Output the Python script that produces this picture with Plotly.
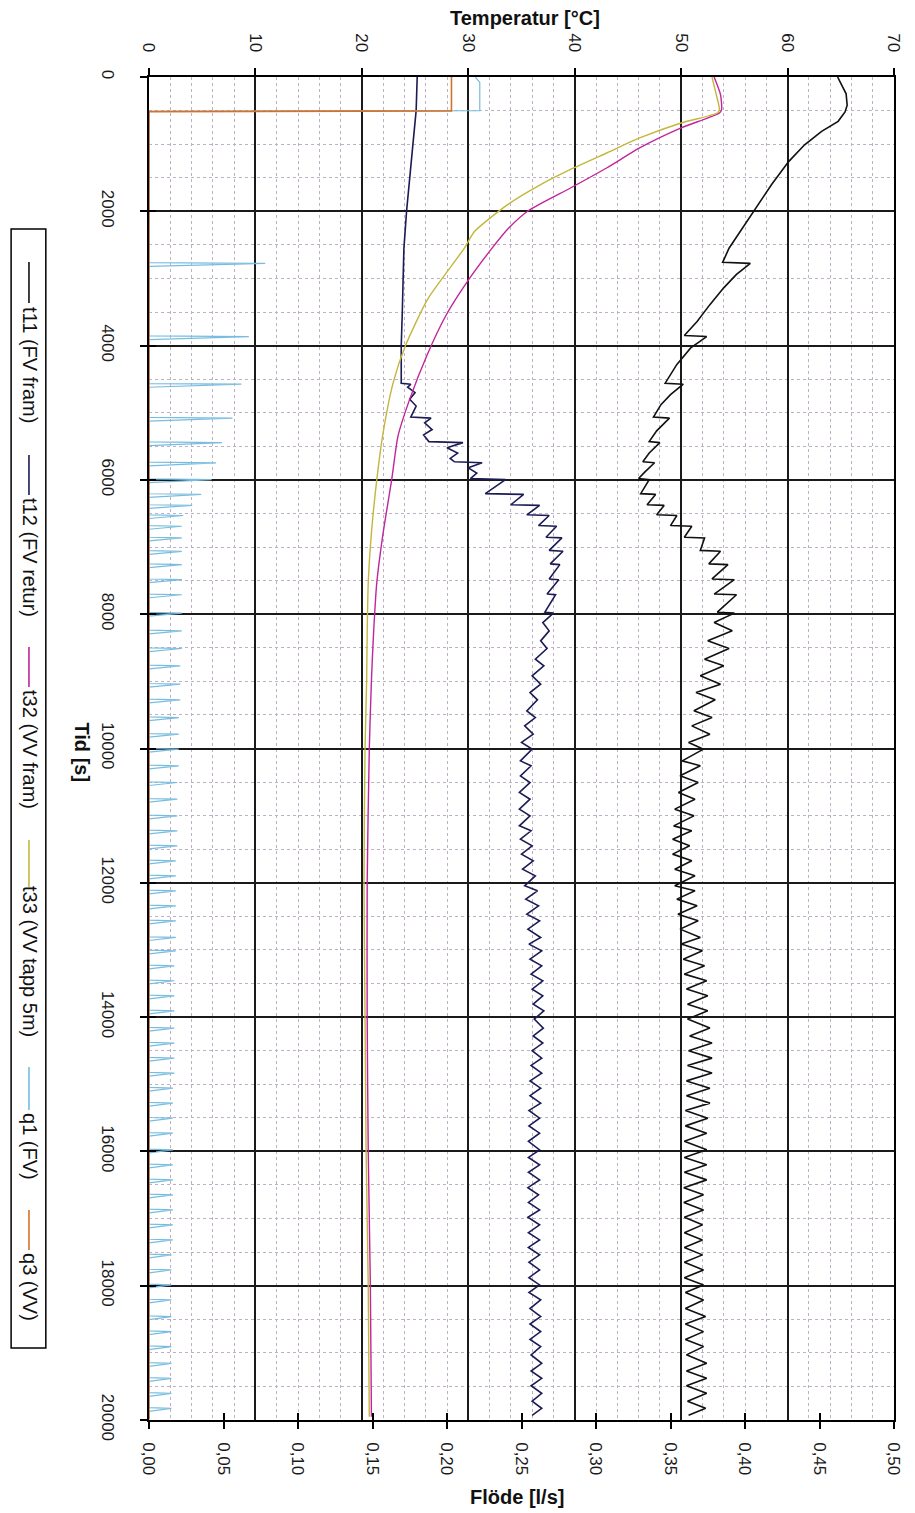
import plotly.graph_objects as go

# ---------------- data ----------------
# time axis [s]; temperatures [degC]; flows [l/s]
t11_early_t = [0, 250, 420, 520, 660, 810, 1010, 1260, 1600, 2000, 2300, 2550, 2760,
               2775, 2940, 3140, 3390, 3640, 3850,
               3865, 4035, 4280, 4560,
               4575, 4730, 4880, 5065,
               5080, 5270, 5430,
               5445, 5600, 5730,
               5745, 5880, 5980]
t11_early_v = [64.7, 65.5, 65.6, 65.4, 64.75, 63.2, 61.6, 60.1, 58.5, 56.8, 55.6, 54.5, 53.9,
               56.5, 55.2, 54.0, 52.7, 51.5, 50.3,
               52.4, 50.9, 49.6, 48.5,
               50.2, 49.0, 48.1, 47.4,
               48.9, 47.7, 47.0,
               48.0, 47.0, 46.4,
               47.5, 46.6, 46.0]

t12_early_t = [0, 500, 1000, 1500, 2000, 2556, 3000, 3500, 4000, 4560,
               4575, 4620, 4700, 4800, 4900, 5000, 5065, 5080, 5150, 5250,
               5330, 5430, 5445, 5520, 5600, 5680, 5730, 5745, 5820, 5900,
               5980]
t12_early_v = [25.2, 25.1, 24.8, 24.5, 24.2, 23.95, 23.85, 23.8, 23.7, 23.7,
               24.6, 24.3, 25.0, 24.5, 25.1, 24.8, 24.6, 26.5, 25.9, 26.6,
               25.8, 26.3, 29.5, 28.0, 29.0, 28.3, 28.7, 31.3, 30.0, 30.8,
               30.2]

# oscillating part: alternating pulse (peak) / trough times
osc_t = [5995, 6205, 6216, 6370, 6380, 6520, 6530, 6680, 6690, 6855,
         6864, 7050, 7063, 7250, 7262, 7475, 7486, 7700, 7710, 7970,
         7984, 8124, 8248, 8397, 8511, 8670, 8769, 8918, 9042, 9166,
         9275, 9439, 9539, 9663, 9787, 9910, 10010, 10184, 10258, 10407,
         10506, 10655, 10755, 10903, 11003, 11152, 11226, 11350, 11449, 11573,
         11673, 11797, 11896, 12045, 12119, 12243, 12343, 12467, 12566, 12690,
         12814, 12913, 13013, 13137, 13236, 13360, 13459, 13583, 13683, 13807,
         13906, 14030, 14164, 14280, 14387, 14500, 14611, 14720, 14834, 14950,
         15058, 15170, 15281, 15390, 15505, 15620, 15729, 15850, 15977, 16090,
         16200, 16310, 16424, 16540, 16647, 16760, 16871, 16980, 17094, 17210,
         17318, 17430, 17541, 17650, 17765, 17880, 17988, 18100, 18212, 18340,
         18460, 18570, 18684, 18800, 18907, 19030, 19156, 19270, 19379, 19490,
         19603, 19720, 19826, 19930]
t11_osc = [47.0, 46.2, 47.6, 46.8, 48.4, 47.7, 49.6, 49.0, 51.0, 50.3,
           52.2, 51.8, 53.7, 52.6, 54.4, 52.9, 55.0, 53.1, 55.2, 53.4,
           55.0, 53.1, 54.8, 52.5, 54.5, 52.2, 54.0, 51.8, 53.7, 51.4,
           53.2, 51.2, 52.9, 51.0, 52.7, 50.7, 52.1, 50.1, 51.8, 49.9,
           51.6, 49.75, 51.3, 49.4, 51.2, 49.3, 51.0, 49.2, 50.8, 49.2,
           51.0, 49.4, 51.3, 49.4, 51.3, 49.6, 51.5, 49.7, 51.6, 49.9,
           51.8, 50.0, 52.0, 50.2, 52.2, 50.3, 52.4, 50.5, 52.5, 50.6,
           52.5, 50.6, 52.7, 50.8, 52.9, 50.7, 52.9, 50.6, 52.9, 50.5,
           52.7, 50.5, 52.7, 50.4, 52.5, 50.4, 52.4, 50.3, 52.4, 50.3,
           52.4, 50.3, 52.4, 50.25, 52.1, 50.25, 52.1, 50.3, 52.0, 50.3,
           52.0, 50.3, 52.0, 50.3, 52.1, 50.3, 52.1, 50.4, 52.1, 50.4,
           52.3, 50.4, 52.1, 50.4, 52.1, 50.5, 52.4, 50.5, 52.4, 50.5,
           52.4, 50.6, 52.3, 50.7]
t12_osc = [33.5, 31.6, 35.2, 34.0, 36.7, 35.5, 37.6, 36.6, 38.3, 37.3,
           38.8, 37.6, 38.9, 37.7, 38.6, 37.6, 38.5, 37.4, 38.2, 37.2,
           38.0, 37.0, 37.6, 36.8, 37.4, 36.3, 37.1, 36.0, 36.8, 35.8,
           36.5, 35.5, 36.3, 35.3, 36.1, 35.0, 36.0, 34.9, 35.9, 34.9,
           35.8, 34.8, 35.8, 34.8, 35.8, 34.8, 35.9, 34.9, 36.0, 35.0,
           36.1, 35.1, 36.3, 35.3, 36.5, 35.4, 36.6, 35.5, 36.7, 35.6,
           36.8, 35.7, 36.9, 35.8, 36.9, 35.9, 37.0, 36.0, 37.0, 36.1,
           37.1, 36.2, 37.05, 36.1, 37.0, 36.0, 36.9, 35.9, 36.9, 35.8,
           36.8, 35.8, 36.8, 35.7, 36.7, 35.7, 36.7, 35.65, 36.7, 35.65,
           36.7, 35.65, 36.7, 35.6, 36.6, 35.65, 36.7, 35.6, 36.7, 35.65,
           36.7, 35.65, 36.7, 35.7, 36.7, 35.7, 36.7, 35.7, 36.8, 35.8,
           36.8, 35.8, 36.8, 35.8, 36.8, 35.9, 36.9, 35.9, 36.9, 35.9,
           36.9, 36.0, 36.9, 36.0]

t32_t = [0, 263, 486, 536, 759, 1057, 1355, 1653, 1985, 2250, 2556, 3004, 3552, 4150,
         4797, 5345, 6000, 6789, 7536, 8283, 8980, 10000, 12000, 14000, 16000, 18000, 19950]
t32_v = [53.1, 53.7, 53.8, 53.6, 50.0, 46.1, 43.0, 39.6, 35.7, 33.8, 32.2, 30.1, 27.9, 26.1,
         24.5, 23.4, 22.8, 22.0, 21.4, 21.1, 20.9, 20.7, 20.5, 20.5, 20.6, 20.8, 20.9]

t33_t = [0, 263, 486, 536, 685, 908, 1132, 1355, 1603, 1901, 2298, 2556, 3303, 4000,
         4548, 5295, 6000, 6789, 7536, 8283, 8980, 10000, 12000, 14000, 16000, 18000, 19950]
t33_v = [52.9, 53.3, 53.6, 53.4, 50.0, 46.1, 43.0, 39.9, 36.8, 33.7, 30.6, 29.6, 26.2, 24.1,
         22.95, 22.0, 21.4, 20.9, 20.6, 20.5, 20.45, 20.3, 20.2, 20.3, 20.4, 20.6, 20.7]

q1_start_t = [0, 80, 500, 510]
q1_start_v = [0.219, 0.222, 0.222, 0.0]
q1_end_t = [19990]
q1_end_v = [0.0]
pulse_early_t = [2775, 3865, 4575, 5080, 5445, 5745]
q1_peak = [0.078, 0.067, 0.062, 0.056, 0.049, 0.045,
           0.042, 0.035, 0.029, 0.023, 0.022,
           0.022, 0.022, 0.022, 0.022, 0.022,
           0.022, 0.022, 0.022, 0.021, 0.021,
           0.021, 0.020, 0.020, 0.020, 0.020,
           0.019, 0.019, 0.019, 0.019, 0.019,
           0.018, 0.018, 0.018, 0.018, 0.018,
           0.018, 0.018, 0.017, 0.017, 0.017,
           0.017, 0.017, 0.017, 0.017, 0.017,
           0.016, 0.016, 0.016, 0.016, 0.016,
           0.016, 0.016, 0.016, 0.016, 0.016,
           0.016, 0.015, 0.015, 0.015, 0.015,
           0.015, 0.015, 0.015, 0.015, 0.015,
           0.015, 0.015]

q3_t = [0, 505, 515, 19990]
q3_v = [0.203, 0.203, 0.0, 0.0]

temp_ticks = [0, 10, 20, 30, 40, 50, 60, 70]
flow_ticks = [0.0, 0.05, 0.10, 0.15, 0.20, 0.25, 0.30, 0.35, 0.40, 0.45, 0.50]
flow_labels = ["0,00", "0,05", "0,10", "0,15", "0,20", "0,25", "0,30", "0,35", "0,40", "0,45", "0,50"]
time_ticks = [0, 2000, 4000, 6000, 8000, 10000, 12000, 14000, 16000, 18000, 20000]

names = ["t11 (FV fram)", "t12 (FV retur)", "t32 (VV fram)", "t33 (VV tapp 5m)", "q1 (FV)", "q3 (VV)"]
colors = ["#111111", "#1b1b55", "#c0259c", "#c4b63c", "#78bddf", "#d4722a"]

# ---------------- assemble series ----------------
assert len(osc_t) == len(t11_osc) == len(t12_osc)
t11_t = t11_early_t + osc_t
t11_v = t11_early_v + t11_osc
t12_t = t12_early_t + osc_t
t12_v = t12_early_v + t12_osc

pulse_t = pulse_early_t + osc_t[0::2]
assert len(pulse_t) == len(q1_peak)
PULSE_RISE, PULSE_FALL = 10, 45
q1_t, q1_v = list(q1_start_t), list(q1_start_v)
for pt, pv in zip(pulse_t, q1_peak):
    q1_t += [pt - PULSE_RISE, pt, pt + PULSE_FALL]
    q1_v += [0.0, pv, 0.0]
q1_t += q1_end_t
q1_v += q1_end_v

# ---------------- figure ----------------
FONT = "Liberation Sans, Arial, sans-serif"
W, H = 915, 1513
L, R, T, B = 149, 15, 77, 93
PW, PH = W - L - R, H - T - B


def px(X):
    return (X - L) / PW


def py(Y):
    return (H - B - Y) / PH


fig = go.Figure()
widths = [1.6, 1.6, 1.4, 1.4, 1.2, 1.6]
shapes_ln = ["linear", "linear", "spline", "spline", "linear", "linear"]
series = [(t11_v, t11_t, "x"), (t12_v, t12_t, "x"), (t32_v, t32_t, "x"),
          (t33_v, t33_t, "x"), (q1_v, q1_t, "x2"), (q3_v, q3_t, "x2")]
for (xv, yv, xa), nm, col, w, sh in zip(series, names, colors, widths, shapes_ln):
    line = dict(color=col, width=w, shape=sh)
    if sh == "spline":
        line["smoothing"] = 0.6
    fig.add_trace(go.Scatter(x=xv, y=yv, mode="lines", name=nm, xaxis=xa, yaxis="y",
                             line=line, showlegend=False))

tickfont = dict(family=FONT, size=17, color="#1a1a1a")
major = "#1a1a1a"
minor_col = "#bfb0c6"

fig.update_layout(
    width=W, height=H,
    margin=dict(l=L, r=R, t=T, b=B),
    paper_bgcolor="white", plot_bgcolor="white",
    showlegend=False,
    xaxis=dict(range=[0, 70], side="top", anchor="y", tickvals=temp_ticks, tickangle=90,
               ticks="outside", ticklen=7, tickwidth=1.5, tickcolor="black",
               showgrid=True, gridcolor=major, gridwidth=1.6,
               minor=dict(dtick=2, showgrid=True, gridcolor=minor_col, griddash="dot", gridwidth=1),
               showline=True, linecolor="black", linewidth=1.6, zeroline=False,
               tickfont=tickfont, ticklabelstandoff=10),
    xaxis2=dict(range=[0, 0.5], overlaying="x", side="bottom", anchor="y",
                tickvals=flow_ticks, ticktext=flow_labels, tickangle=90,
                ticks="outside", ticklen=7, tickwidth=1.5, tickcolor="black",
                showgrid=False, zeroline=False, showline=True, linecolor="black", linewidth=1.6,
                tickfont=tickfont, ticklabelstandoff=10),
    xaxis3=dict(range=[0, 0.5], overlaying="x", side="bottom", anchor="y",
                tickvals=flow_ticks, ticks="inside", ticklen=7, tickwidth=1.5, tickcolor="black",
                showticklabels=False, showgrid=False, zeroline=False, showline=False),
    yaxis=dict(range=[20000, 0], tickvals=time_ticks, ticktext=[str(v) for v in time_ticks],
               tickangle=90, ticks="outside", ticklen=7, tickwidth=1.5, tickcolor="black",
               showgrid=True, gridcolor=major, gridwidth=1.6,
               minor=dict(dtick=500, showgrid=True, gridcolor=minor_col, griddash="dot", gridwidth=1),
               showline=True, mirror=True, linecolor="black", linewidth=1.6, zeroline=False,
               tickfont=tickfont, ticklabelstandoff=18),
    yaxis2=dict(range=[20000, 0], overlaying="y", side="left", anchor="x",
                tickvals=time_ticks, ticks="inside", ticklen=7, tickwidth=1.5, tickcolor="black",
                showticklabels=False, showgrid=False, zeroline=False, showline=False),
)
# empty trace so the overlay tick axes render
fig.add_trace(go.Scatter(x=[None], y=[None], xaxis="x3", yaxis="y2", showlegend=False))

ann = [
    dict(text="<b>Temperatur [°C]</b>", x=px(528), y=py(18), font=dict(family=FONT, size=20, color="#111")),
    dict(text="<b>Flöde [l/s]</b>", x=px(520), y=py(1497), font=dict(family=FONT, size=20, color="#111")),
    dict(text="<b>Tid [s]</b>", x=px(81), y=py(752), textangle=90, font=dict(family=FONT, size=20, color="#111")),
]
shapes = [dict(type="rect", xref="paper", yref="paper", x0=px(10), x1=px(45), y0=py(229), y1=py(1348),
               line=dict(color="black", width=1.5), fillcolor="rgba(0,0,0,0)")]

leg_line = [(262, 303), (455, 495), (647, 687), (840, 887), (1067, 1110), (1210, 1250)]
leg_text = [365, 558, 750, 962, 1147, 1287]
for nm, col, (y0, y1), yc in zip(names, colors, leg_line, leg_text):
    shapes.append(dict(type="line", xref="paper", yref="paper", x0=px(28), x1=px(28),
                       y0=py(y0), y1=py(y1), line=dict(color=col, width=1.6)))
    ann.append(dict(text=nm, x=px(29), y=py(yc), textangle=90,
                    font=dict(family=FONT, size=20, color="#111")))

for a in ann:
    a.update(xref="paper", yref="paper", showarrow=False, xanchor="center", yanchor="middle")
fig.update_layout(annotations=ann, shapes=shapes)

fig.write_html("out.html")
